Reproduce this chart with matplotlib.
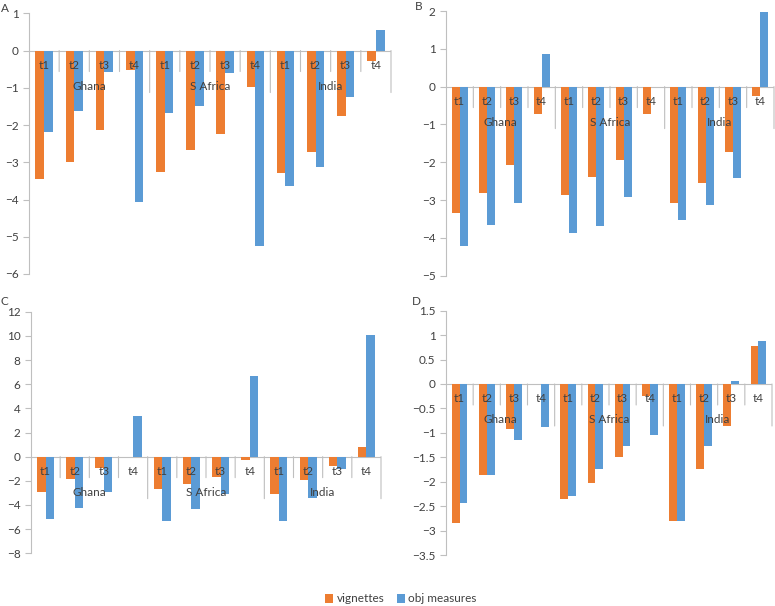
import numpy as np
import matplotlib
matplotlib.use("Agg")
import matplotlib.pyplot as plt
from matplotlib.ticker import FuncFormatter
from matplotlib.patches import Patch

plt.rcParams['font.family'] = ['Lato', 'DejaVu Sans']

periods = ["t1", "t2", "t3", "t4"]
countries = ["Ghana", "S Africa", "India"]
series_names = ["vignettes", "obj measures"]

# Panel A
a_vignettes = [-3.45, -2.98, -2.14, -0.53, -3.27, -2.67, -2.24, -0.98, -3.29, -2.72, -1.75, -0.27]
a_obj = [-2.20, -1.62, -0.57, -4.07, -1.68, -1.49, -0.59, -5.24, -3.65, -3.12, -1.24, 0.56]
# Panel B
b_vignettes = [-3.35, -2.82, -2.07, -0.73, -2.87, -2.39, -1.93, -0.72, -3.08, -2.54, -1.72, -0.24]
b_obj = [-4.22, -3.67, -3.07, 0.86, -3.86, -3.70, -2.92, 0.0, -3.52, -3.12, -2.41, 1.98]
# Panel C
c_vignettes = [-2.90, -1.88, -0.91, 0.0, -2.70, -2.23, -1.66, -0.25, -3.06, -1.93, -0.74, 0.80]
c_obj = [-5.19, -4.22, -2.92, 3.39, -5.30, -4.36, -3.12, 6.70, -5.32, -3.45, -1.05, 10.07]
# Panel D
d_vignettes = [-2.84, -1.87, -0.92, 0.0, -2.36, -2.02, -1.49, -0.25, -2.81, -1.75, -0.86, 0.77]
d_obj = [-2.44, -1.86, -1.15, -0.89, -2.29, -1.73, -1.27, -1.04, -2.81, -1.26, 0.07, 0.87]

ORANGE = "#ED7D31"
BLUE = "#5B9BD5"
GRID = "#BFBFBF"
TXT = "#404040"
FS = 8.5

fig = plt.figure(figsize=(7.75, 6.06), dpi=100)
W, H = 775, 606


def make_ax(x0, x1, ytop, ybot):
    return fig.add_axes([x0 / W, 1 - ybot / H, (x1 - x0) / W, (ybot - ytop) / H])


def fmt(v, pos):
    s = "{:g}".format(v)
    return s.replace("-", "\u2212")


def panel(ax, vig, obj, ylim, step):
    n = len(vig)
    x = np.arange(n)
    w = 0.29
    ax.bar(x - w / 2, vig, w, color=ORANGE, zorder=2)
    ax.bar(x + w / 2, obj, w, color=BLUE, zorder=2)
    ax.set_xlim(-0.5, n - 0.5)
    ax.set_ylim(*ylim)
    ax.set_yticks(np.arange(ylim[0], ylim[1] + step / 2, step))
    ax.yaxis.set_major_formatter(FuncFormatter(fmt))
    for s in ["top", "right", "bottom"]:
        ax.spines[s].set_visible(False)
    ax.spines["left"].set_color(GRID)
    ax.spines["left"].set_linewidth(0.8)
    ax.tick_params(axis="y", colors=GRID, labelcolor=TXT, labelsize=FS, length=4, width=0.8)
    ax.set_xticks([])
    ax.axhline(0, color=GRID, lw=0.8, zorder=1)
    ax.patch.set_alpha(0)
    # category labels
    for i in range(n):
        ax.annotate(periods[i % 4], xy=(i, 0), xytext=(0, -15), textcoords="offset pixels",
                    ha="center", va="center", fontsize=FS, color=TXT, zorder=3)
    for g, c in enumerate(countries):
        ax.annotate(c, xy=(g * 4 + 1.5, 0), xytext=(0, -36), textcoords="offset pixels",
                    ha="center", va="center", fontsize=FS, color=TXT, zorder=3)
    # separators
    for b in np.arange(0.5, n, 1.0):
        long = (int(b + 0.5) % 4 == 0)
        L = 42 if long else 21
        ax.annotate("", xy=(b, 0), xytext=(0, -L), textcoords="offset pixels",
                    arrowprops=dict(arrowstyle="-", color=GRID, lw=0.8, shrinkA=0, shrinkB=0))


axA = make_ax(29, 391, 13.3, 274)
panel(axA, a_vignettes, a_obj, (-6, 1), 1)
axB = make_ax(446, 774, 11, 275.6)
panel(axB, b_vignettes, b_obj, (-5, 2), 1)
axC = make_ax(31, 381, 311.7, 553.3)
panel(axC, c_vignettes, c_obj, (-8, 12), 2)
axD = make_ax(446, 772, 310.7, 555)
panel(axD, d_vignettes, d_obj, (-3.5, 1.5), 0.5)

for lbl, (px, py) in zip("ABCD", [(5, 8), (419, 7), (4, 302), (416, 302)]):
    fig.text(px / W, 1 - py / H, lbl, fontsize=FS, color=TXT, ha="center", va="center")

handles = [Patch(facecolor=ORANGE), Patch(facecolor=BLUE)]
fig.legend(handles, series_names, loc="center", bbox_to_anchor=(401 / W, 1 - 599 / H),
           ncol=2, frameon=False, fontsize=FS, handlelength=0.7, handleheight=0.7,
           handletextpad=0.3, columnspacing=1.0, labelcolor=TXT)

fig.savefig("out.png", dpi=100)
